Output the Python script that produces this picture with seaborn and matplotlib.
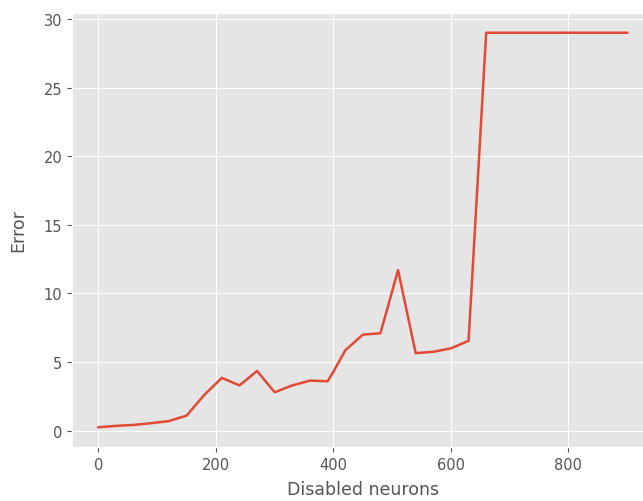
import numpy as np
import pandas as pd
import matplotlib
matplotlib.use('Agg')
import matplotlib.pyplot as plt
import seaborn as sns

# disabled neurons vs error
disabled = [0, 30, 60, 90, 120, 150, 180, 210, 240, 270, 300, 330, 360, 390, 400,
            420, 450, 480, 510, 540, 570, 600, 630, 660, 690, 720, 750, 780, 810,
            840, 870, 900]
error = [0.25, 0.35, 0.42, 0.55, 0.7, 1.1, 2.6, 3.85, 3.3, 4.35, 2.8, 3.3, 3.65, 3.6, 4.3,
         5.85, 7.0, 7.1, 11.7, 5.65, 5.75, 6.0, 6.55, 29.0, 29.0, 29.0, 29.0, 29.0, 29.0,
         29.0, 29.0, 29.0]

df = pd.DataFrame({'Disabled neurons': disabled, 'Error': error})

plt.style.use('ggplot')
fig = plt.figure(figsize=(6.43, 5.02), dpi=100)
ax = fig.add_axes([0.112, 0.1076, 0.9045, 0.8645])

sns.lineplot(data=df, x='Disabled neurons', y='Error', color='#E24A33', linewidth=1.8, ax=ax)

ax.tick_params(labelsize=10.5)
ax.set_xlabel('Disabled neurons', fontsize=12.5, labelpad=6)
ax.set_ylabel('Error', fontsize=12.5, labelpad=12)

fig.savefig('out.png', dpi=100)
plt.close(fig)
